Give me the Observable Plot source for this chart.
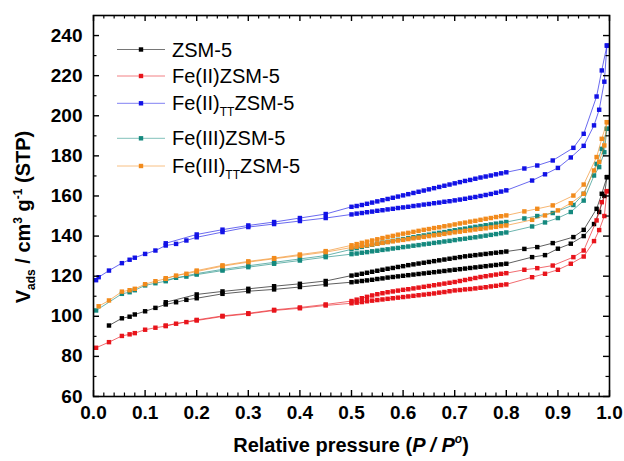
<!DOCTYPE html>
<html><head><meta charset="utf-8">
<script src="https://cdn.jsdelivr.net/npm/d3@7"></script>
<script src="https://cdn.jsdelivr.net/npm/@observablehq/plot@0.6"></script>
<style>body{margin:0;background:#fff}svg{display:block}</style>
</head><body><div id="chart"></div>
<script>
// Relative pressure grids (adsorption branch, desorption branch)
const pAds = [0.005, 0.01, 0.03, 0.055, 0.07, 0.08, 0.10, 0.12, 0.14, 0.16, 0.18, 0.20, 0.25, 0.30, 0.35, 0.40, 0.45,
  0.50, 0.51, 0.52, 0.53, 0.54, 0.55, 0.56, 0.57, 0.58, 0.59, 0.60, 0.61, 0.62, 0.63, 0.64, 0.65, 0.66, 0.67, 0.68, 0.69, 0.70, 0.71, 0.72, 0.73, 0.74, 0.75, 0.76, 0.77, 0.78, 0.79, 0.80,
  0.85, 0.875, 0.90, 0.925, 0.95, 0.97, 0.98, 0.99, 0.995];
const pDes = [0.995, 0.985, 0.975, 0.95, 0.93, 0.89, 0.86, 0.835,
  0.80, 0.79, 0.78, 0.77, 0.76, 0.75, 0.74, 0.73, 0.72, 0.71, 0.70, 0.69, 0.68, 0.67, 0.66, 0.65, 0.64, 0.63, 0.62, 0.61, 0.60, 0.59, 0.58, 0.57, 0.56, 0.55, 0.54, 0.53, 0.52, 0.51, 0.50,
  0.45, 0.40, 0.35, 0.30, 0.25, 0.20, 0.14];

// ZSM-5
const zsm5Ads = [null, null, 95.4, 99.0, 99.8, 100.9, 102.5, 104.2, 105.9, 107.0, 108.2, 109.0, 111.2, 112.5, 113.4, 114.6, 115.9,
  117.0, 117.3, 117.6, 117.9, 118.2, 118.6, 118.9, 119.3, 119.6, 119.9, 120.2, 120.5, 120.8, 121.1, 121.4, 121.7, 122.0, 122.3, 122.6, 122.9, 123.2, 123.5, 123.8, 124.1, 124.4, 124.7, 125.0, 125.3, 125.6, 125.9, 126.2,
  129.5, 130.5, 133.7, 136.2, 140.0, 146.0, 152.0, 160.0, 169.4];
const zsm5Des = [169.4, 161.1, 153.6, 143.1, 139.5, 136.5, 134.5, 133.6,
  132.3, 132.0, 131.7, 131.4, 131.1, 130.8, 130.5, 130.2, 129.9, 129.5, 129.1, 128.7, 128.3, 127.9, 127.5, 127.1, 126.7, 126.3, 125.9, 125.5, 125.0, 124.6, 124.1, 123.7, 123.2, 122.7, 122.2, 121.7, 121.2, 120.7, 120.3,
  117.6, 116.2, 115.0, 113.7, 112.4, 110.9, 107.0];

// Fe(II)ZSM-5
const fe2Ads = [84.3, null, 87.1, 90.2, 91.0, 91.6, 93.3, 94.3, 95.1, 96.3, 97.1, 97.9, 99.9, 101.2, 102.9, 104.0, 105.4,
  106.5, 106.8, 107.1, 107.5, 107.8, 108.1, 108.4, 108.7, 109.0, 109.3, 109.6, 109.9, 110.2, 110.5, 110.8, 111.1, 111.4, 111.8, 112.1, 112.5, 112.9, 113.1, 113.4, 113.6, 113.9, 114.2, 114.5, 114.9, 115.2, 115.6, 115.9,
  119.5, 121.2, 123.2, 126.2, 129.8, 137.5, 143.0, 150.0, 162.4];
const fe2Des = [162.4, 156.9, 147.8, 132.8, 129.5, 125.3, 124.0, 123.2,
  121.5, 121.2, 120.8, 120.4, 120.0, 119.6, 119.1, 118.6, 118.1, 117.6, 117.1, 116.7, 116.3, 115.9, 115.5, 115.1, 114.7, 114.3, 113.9, 113.5, 113.2, 112.8, 112.4, 112.0, 111.5, 111.0, 110.4, 109.7, 109.0, 108.3, 107.6,
  105.9, 104.4, 103.2, 101.5, 100.2, 98.2, 95.4];

// Fe(II)TT ZSM-5
const fe2ttAds = [118.0, 119.5, 122.8, 126.5, 128.2, 129.2, 131.1, 132.8, 135.3, 136.1, 137.8, 139.4, 142.0, 144.5, 146.0, 147.5, 149.0,
  150.8, 151.2, 151.5, 151.9, 152.2, 152.6, 152.9, 153.3, 153.6, 154.0, 154.3, 154.6, 155.0, 155.3, 155.7, 156.0, 156.4, 156.7, 157.1, 157.4, 157.8, 158.2, 158.6, 159.1, 159.5, 160.0, 160.5, 161.0, 161.6, 162.2, 162.8,
  167.7, 170.8, 174.0, 179.2, 185.0, 195.2, 203.0, 217.0, 235.0];
const fe2ttDes = [235.0, 222.6, 209.6, 191.0, 184.0, 177.7, 175.2, 173.7,
  171.8, 171.3, 170.8, 170.2, 169.7, 169.2, 168.6, 168.0, 167.5, 166.9, 166.3, 165.7, 165.1, 164.5, 163.9, 163.3, 162.7, 162.1, 161.5, 160.9, 160.3, 159.7, 159.1, 158.5, 157.9, 157.3, 156.7, 156.1, 155.5, 155.0, 154.6,
  151.0, 149.0, 147.0, 145.3, 143.2, 140.8, 136.4];

// Fe(III)ZSM-5
const fe3Ads = [102.9, null, null, 111.2, 112.0, 113.0, 115.4, 116.5, 117.5, 119.2, 119.8, 120.8, 122.8, 124.5, 126.2, 127.8, 129.5,
  131.0, 131.3, 131.7, 132.0, 132.4, 132.7, 133.1, 133.4, 133.8, 134.1, 134.5, 134.8, 135.2, 135.5, 135.9, 136.2, 136.6, 136.9, 137.3, 137.6, 138.0, 138.4, 138.7, 139.1, 139.4, 139.8, 140.2, 140.6, 141.0, 141.4, 141.8,
  144.8, 146.8, 149.0, 152.0, 157.7, 170.2, 174.4, 181.8, 193.5];
const fe3Des = [193.5, 183.5, 176.0, 161.1, 155.5, 151.5, 150.0, 148.8,
  147.0, 146.6, 146.2, 145.8, 145.4, 145.0, 144.6, 144.2, 143.7, 143.3, 142.9, 142.5, 142.0, 141.6, 141.2, 140.7, 140.3, 139.9, 139.4, 139.0, 138.5, 138.1, 137.6, 137.1, 136.7, 136.2, 135.7, 135.2, 134.6, 134.0, 133.4,
  130.3, 128.6, 126.9, 125.2, 123.4, 121.3, 118.0];

// Fe(III)TT ZSM-5
const fe3ttAds = [null, 105.0, 107.9, 112.3, 113.0, 113.7, 116.0, 117.5, 118.7, 120.3, 121.2, 122.3, 125.0, 127.0, 128.7, 130.3, 132.0,
  134.3, 134.7, 135.1, 135.4, 135.8, 136.2, 136.6, 137.0, 137.4, 137.8, 138.1, 138.5, 138.9, 139.2, 139.6, 140.0, 140.4, 140.7, 141.1, 141.5, 141.9, 142.2, 142.6, 142.9, 143.3, 143.6, 143.9, 144.3, 144.6, 145.0, 145.3,
  148.1, 150.3, 152.8, 156.4, 161.1, 172.7, 177.0, 185.2, 196.8];
const fe3ttDes = [196.8, 188.5, 179.4, 165.7, 160.2, 155.3, 153.6, 152.3,
  150.3, 149.9, 149.5, 149.0, 148.6, 148.1, 147.6, 147.2, 146.7, 146.3, 145.8, 145.3, 144.9, 144.4, 144.0, 143.5, 143.1, 142.6, 142.1, 141.6, 141.2, 140.7, 140.1, 139.6, 139.0, 138.4, 137.8, 137.2, 136.6, 136.0, 135.4,
  132.5, 130.8, 129.0, 127.4, 125.4, 122.8, 119.0];

const seriesNames = ["ZSM-5", "Fe(II)ZSM-5", "Fe(II)TTZSM-5", "Fe(III)ZSM-5", "Fe(III)TTZSM-5"];
const legendParts = [["ZSM-5", "", ""], ["Fe(II)ZSM-5", "", ""], ["Fe(II)", "TT", "ZSM-5"], ["Fe(III)ZSM-5", "", ""], ["Fe(III)", "TT", "ZSM-5"]];
const seriesColors = ["#000000", "#e8141b", "#1212e6", "#14897e", "#f28b1c"];
const adsSets = [zsm5Ads, fe2Ads, fe2ttAds, fe3Ads, fe3ttAds];
const desSets = [zsm5Des, fe2Des, fe2ttDes, fe3Des, fe3ttDes];

const xMajorTicks = [0, 0.1, 0.2, 0.3, 0.4, 0.5, 0.6, 0.7, 0.8, 0.9, 1.0];
const yMajorTicks = [60, 80, 100, 120, 140, 160, 180, 200, 220, 240];
const xMinorTicks = d3.range(1, 50).map(i => i * 0.02).filter((d, i) => (i + 1) % 5 !== 0);
const yMinorTicks = [70, 90, 110, 130, 150, 170, 190, 210, 230];

// Build rows (adsorption then desorption, connected as in the original)
const rowsBySeries = seriesNames.map((name, i) => {
  const r = [];
  pAds.forEach((p, j) => { const v = adsSets[i][j]; if (v != null) r.push({p, v, s: name}); });
  pDes.forEach((p, j) => { const v = desSets[i][j]; if (v != null) r.push({p, v, s: name}); });
  return r;
});

const W = 624, H = 461, mL = 93, mR = 15, mT = 15, mB = 65;
const fw = W - mL - mR, fh = H - mT - mB;

const seriesMarks = rowsBySeries.flatMap((rows, i) => [
  Plot.line(rows, {x: "p", y: "v", stroke: seriesColors[i], strokeWidth: 0.9, strokeOpacity: 0.7}),
  Plot.dot(rows, {x: "p", y: "v", fill: seriesColors[i], symbol: "square", r: 2.5})
]);

const plot = Plot.plot({
  width: W, height: H,
  marginLeft: mL, marginRight: mR, marginTop: mT, marginBottom: mB,
  style: {fontFamily: "'Liberation Sans', Arial, sans-serif", fontSize: "19px", fontWeight: "bold", color: "#000", background: "#fff", overflow: "visible"},
  x: {domain: [0, 1]},
  y: {domain: [60, 250]},
  marks: [
    ...seriesMarks,
    Plot.tickX(xMajorTicks, {x: d => d, insetTop: fh - 6, strokeWidth: 1.4}),
    Plot.tickX(xMajorTicks, {x: d => d, insetBottom: fh - 6, strokeWidth: 1.4}),
    Plot.tickX(xMinorTicks, {x: d => d, insetTop: fh - 3.5, strokeWidth: 1.2}),
    Plot.tickX(xMinorTicks, {x: d => d, insetBottom: fh - 3.5, strokeWidth: 1.2}),
    Plot.tickY(yMajorTicks, {y: d => d, insetRight: fw - 6, strokeWidth: 1.4}),
    Plot.tickY(yMajorTicks, {y: d => d, insetLeft: fw - 6, strokeWidth: 1.4}),
    Plot.tickY(yMinorTicks, {y: d => d, insetRight: fw - 3.5, strokeWidth: 1.2}),
    Plot.tickY(yMinorTicks, {y: d => d, insetLeft: fw - 3.5, strokeWidth: 1.2}),
    Plot.frame({strokeWidth: 1.6}),
    Plot.axisX(xMajorTicks, {tickSize: 0, tickPadding: 9, tickFormat: d3.format(".1f"), label: null}),
    Plot.axisY(yMajorTicks, {tickSize: 0, tickPadding: 11, label: null})
  ]
});

const svg = d3.select(plot);
const ff = "'Liberation Sans', Arial, sans-serif";

// Legend
const legendRowY = [49.5, 76, 103.3, 138.3, 166];
legendParts.forEach((parts, i) => {
  const y = legendRowY[i];
  const g = svg.append("g");
  g.append("line").attr("x1", 117).attr("x2", 165).attr("y1", y).attr("y2", y)
    .attr("stroke", seriesColors[i]).attr("stroke-width", 0.9).attr("stroke-opacity", 0.6);
  g.append("rect").attr("x", 141 - 2.2).attr("y", y - 2.2).attr("width", 4.4).attr("height", 4.4).attr("fill", seriesColors[i]);
  const t = g.append("text").attr("x", 172).attr("y", y + 7).attr("text-anchor", "start")
    .attr("font-family", ff).attr("font-size", 20).attr("font-weight", "normal").attr("fill", "#000");
  t.append("tspan").text(parts[0]);
  if (parts[1]) {
    t.append("tspan").attr("font-size", 12).attr("dy", 6).text(parts[1]);
    t.append("tspan").attr("dy", -6).text(parts[2]);
  }
});

// X title
const xt = svg.append("text").attr("x", 351).attr("y", 452).attr("text-anchor", "middle")
  .attr("font-family", ff).attr("font-size", 20).attr("font-weight", "bold").attr("fill", "#000");
xt.append("tspan").text("Relative pressure (");
xt.append("tspan").attr("font-style", "italic").text("P / P");
xt.append("tspan").attr("font-size", 12).attr("font-style", "italic").attr("dy", -9).text("o");
xt.append("tspan").attr("dy", 9).text(")");

// Y title
const yt = svg.append("text").attr("transform", "translate(30,217) rotate(-90)").attr("text-anchor", "middle")
  .attr("font-family", ff).attr("font-size", 20).attr("font-weight", "bold").attr("fill", "#000");
yt.append("tspan").text("V");
yt.append("tspan").attr("font-size", 12).attr("dy", 5).text("ads");
yt.append("tspan").attr("dy", -5).text(" / cm");
yt.append("tspan").attr("font-size", 12).attr("dy", -8).text("3");
yt.append("tspan").attr("dy", 8).text(" g");
yt.append("tspan").attr("font-size", 12).attr("dy", -8).text("-1");
yt.append("tspan").attr("dy", 8).text(" (STP)");

document.getElementById("chart").appendChild(plot);
</script>
</body></html>
